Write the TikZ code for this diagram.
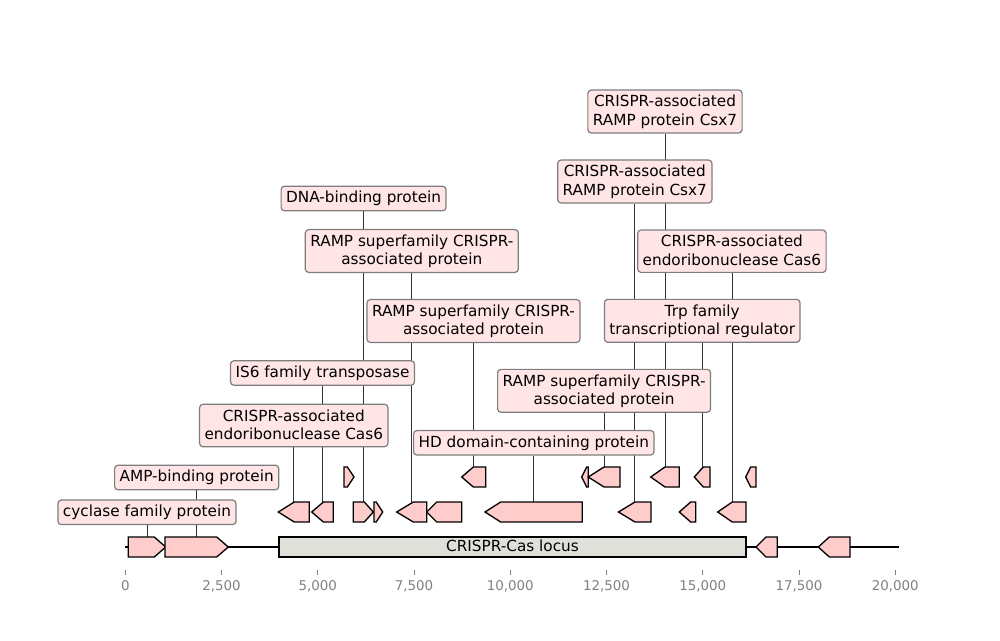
\documentclass[tikz,border=0pt]{standalone}
\usepackage{fontspec}
\newfontfamily\dvs{DejaVu Sans}
\usetikzlibrary{backgrounds}
\definecolor{genefill}{RGB}{255,204,204}
\definecolor{labfill}{RGB}{255,229,229}
\definecolor{labedge}{RGB}{125,125,125}
\definecolor{locusfill}{RGB}{224,224,219}
\definecolor{tickgray}{RGB}{128,128,128}
\newcommand\lstr{\rule[-2pt]{0pt}{11pt}}
\newcommand\twol[2]{\lstr #1\\\lstr #2}
\newcommand\onel[1]{\lstr #1}
% right-pointing gene: left, right, head, ycenter
\newcommand\geneR[4]{\draw[gene] (#1,#4-10) -- (#2-#3,#4-10) -- (#2,#4) -- (#2-#3,#4+10) -- (#1,#4+10) -- cycle;}
% left-pointing gene: left, right, head, ycenter
\newcommand\geneL[4]{\draw[gene] (#2,#4-10) -- (#1+#3,#4-10) -- (#1,#4) -- (#1+#3,#4+10) -- (#2,#4+10) -- cycle;}
\tikzset{
  lab/.style={draw=labedge, fill=labfill, line width=0.9pt, rounded corners=2.5pt,
    align=center, inner xsep=3.75pt, inner ysep=3.5pt,
    font=\dvs\fontsize{11.46pt}{13.75pt}\selectfont, text=black},
  gene/.style={draw=black, fill=genefill, line width=1pt, line join=miter},
  locus/.style={draw=black, fill=locusfill, line width=1pt},
  conn/.style={draw=black!80, line width=0.6pt},
  axisline/.style={draw=black, line width=1.5pt},
  tickmark/.style={draw=tickgray, line width=0.75pt},
  ticklab/.style={anchor=base, text=tickgray, font=\dvs\fontsize{10.05pt}{12pt}\selectfont, inner sep=0pt},
  locuslab/.style={anchor=base, text=black, font=\dvs\fontsize{11.46pt}{13.75pt}\selectfont, inner sep=0pt}
}
\begin{document}
\begin{tikzpicture}[x=0.75pt,y=-0.75pt]
\useasboundingbox (0,0) rectangle (1000,640);
% ---- axis ----
\coordinate (gstart) at (125.3,547);
\coordinate (gend) at (899.3,547);
\draw[axisline] (gstart) -- (gend);
\foreach \k/\s in {0/0,1/{2,500},2/{5,000},3/{7,500},4/{10,000},5/{12,500},6/{15,000},7/{17,500},8/{20,000}}{
  \draw[tickmark] (125.3+96.25*\k,570) -- (125.3+96.25*\k,574.5);
  \node[ticklab] (tk\k) at (125.3+96.25*\k,590) {\s};
}
% ---- row 0 ----
\geneR{128.3}{165.7}{11.4}{547}
\geneR{165}{228.3}{11.6}{547}
\draw[locus] (279,537) rectangle (746,557);
\node[locuslab] (locus) at (512.5,551.7) {CRISPR-Cas locus};
\geneL{756}{777.3}{10}{547}
\geneL{818.3}{850}{11}{547}
% ---- row 1 ----
\geneL{278.3}{309.3}{16}{512}
\geneL{311.7}{333.3}{11.7}{512}
\geneR{353.3}{373.3}{9}{512}
\geneR{374}{382.7}{6.5}{512}
\geneL{396.7}{426.7}{16.6}{512}
\geneL{426.7}{461.7}{10}{512}
\geneL{485}{582.3}{15.7}{512}
\geneL{618.5}{651}{16.5}{512}
\geneL{679.3}{695.7}{11.4}{512}
\geneL{717.7}{746}{14.6}{512}
% ---- row 2 ----
\geneR{344}{354}{6.7}{477}
\geneL{461.7}{485.7}{11.6}{477}
\geneL{581.7}{588.3}{5}{477}
\geneL{588.3}{620}{15.7}{477}
\geneL{650.7}{679.3}{14.3}{477}
\geneL{694.3}{710}{9}{477}
\geneL{745.7}{756}{5}{477}
% ---- gene tops ----
\coordinate (t1) at (147,537);
\coordinate (t2) at (196.7,537);
\coordinate (t3) at (293.8,502);
\coordinate (t4) at (322.5,502);
\coordinate (t5) at (363.6,502);
\coordinate (t6) at (411.8,502);
\coordinate (t7) at (473.5,467);
\coordinate (t8) at (533.8,502);
\coordinate (t9) at (604.1,467);
\coordinate (t10) at (634.8,502);
\coordinate (t11) at (665,467);
\coordinate (t12) at (702.2,467);
\coordinate (t13) at (731.9,502);
% ---- labels ----
\node[lab] (l1) at (147,512.3) {\onel{cyclase family protein}};
\node[lab] (l2) at (196.7,477.5) {\onel{AMP-binding protein}};
\node[lab] (l3) at (293.8,425.5) {\twol{CRISPR-associated}{endoribonuclease Cas6}};
\node[lab] (l4) at (322.5,373) {\onel{IS6 family transposase}};
\node[lab] (l5) at (363.6,198.5) {\onel{DNA-binding protein}};
\node[lab] (l6) at (411.8,251) {\twol{RAMP superfamily CRISPR-}{associated protein}};
\node[lab] (l7) at (473.5,321) {\twol{RAMP superfamily CRISPR-}{associated protein}};
\node[lab] (l8) at (533.8,442.8) {\onel{HD domain-containing protein}};
\node[lab] (l9) at (604.1,390.8) {\twol{RAMP superfamily CRISPR-}{associated protein}};
\node[lab] (l10) at (634.8,181.5) {\twol{CRISPR-associated}{RAMP protein Csx7}};
\node[lab] (l11) at (665,111.5) {\twol{CRISPR-associated}{RAMP protein Csx7}};
\node[lab] (l12) at (702.2,320.8) {\twol{Trp family}{transcriptional regulator}};
\node[lab] (l13) at (731.9,251.2) {\twol{CRISPR-associated}{endoribonuclease Cas6}};
% ---- connectors (behind labels) ----
\begin{pgfonlayer}{background}
\foreach \i in {1,...,13}{
  \draw[conn] (l\i) -- (t\i);
}
\end{pgfonlayer}
\end{tikzpicture}
\end{document}
